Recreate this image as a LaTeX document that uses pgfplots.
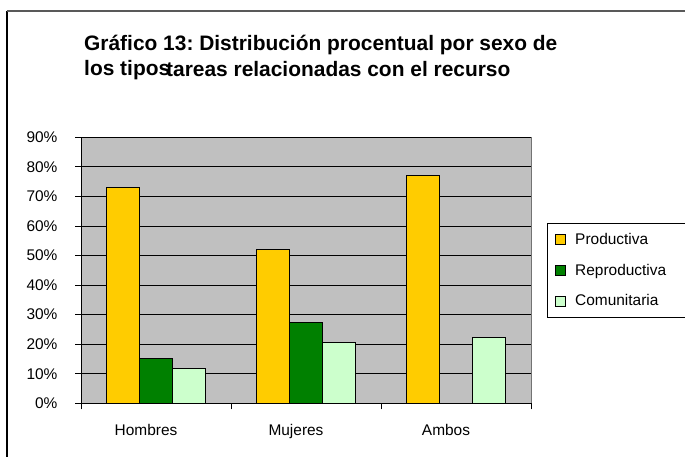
\documentclass[border=0pt]{standalone}
\usepackage{fontspec}
\setmainfont{Liberation Sans}
\usepackage{pgfplots}
\pgfplotsset{compat=1.18}
\definecolor{prod}{HTML}{FFCC00}
\definecolor{repro}{HTML}{008000}
\definecolor{comu}{HTML}{CCFFCC}
\definecolor{bg}{HTML}{C0C0C0}
\frenchspacing
\begin{document}
\begin{tikzpicture}[x=1bp,y=1bp]
\useasboundingbox (0,0) rectangle (685,457);
\draw[black,line width=1.2bp] (7,0) -- (7,446);
\draw[gray!70!black, line width=1.2bp] (7,446) -- (685,446);
\node[anchor=base west, font=\fontsize{21}{24}\selectfont\bfseries, inner sep=0] at (84,406) {Gráfico 13: Distribución procentual por sexo de};
\node[anchor=base west, font=\fontsize{21}{24}\selectfont\bfseries, inner sep=0] at (84,381.5) {los tipos};
\node[anchor=base west, font=\fontsize{21}{24}\selectfont\bfseries, inner sep=0] at (166,380.5) {tareas relacionadas con el recurso};
\begin{axis}[at={(81bp,53.7bp)}, anchor=south west, scale only axis, width=450bp, height=266bp,
  ybar=0pt, bar width=33bp,
  xmin=0.5, xmax=3.5, ymin=0, ymax=90,
  ytick={0,10,...,90},
  yticklabel={\pgfmathprintnumber{\tick}\%},
  /pgf/number format/assume math mode=true,
  xtick={0.5,1.5,2.5,3.5}, xticklabels={},
  extra x ticks={1,2,3}, extra x tick labels={Hombres,Mujeres,Ambos},
  extra x tick style={major tick length=0pt, grid=none, xticklabel style={xshift=-10bp, yshift=-17bp}},
  yticklabel style={xshift=-14bp},
  ymajorgrids, grid style={black, line width=0.8bp},
  tick align=outside, major tick length=6bp, tick style={black, line width=0.8bp},
  axis background/.style={fill=bg, draw=gray!90!black, line width=1bp},
  axis x line*=bottom, axis y line*=left,
  axis line style={black, -, line width=1bp},
  ticklabel style={font=\fontsize{15.5}{17}\selectfont},
  legend cell align=left,
  legend image code/.code={\draw[#1, line width=0.8bp] (0bp,-5bp) rectangle (10bp,5bp);},
  legend style={at={(axis description cs:1.0356,0.678)}, anchor=north west, draw=black, line width=0.8bp, fill=white,
    font=\fontsize{15.5}{17}\selectfont, row sep=14bp, column sep=7bp, inner xsep=8bp, inner ysep=8bp},
  every axis plot/.append style={draw=black, line width=1bp},
]
\addplot[fill=prod] coordinates {(1,73) (2,52) (3,77.1)};
\addplot[fill=repro] coordinates {(1,15.3) (2,27.5)};
\addplot[fill=comu] coordinates {(1,11.7) (2,20.6) (3,22.2)};
\legend{\makebox[110bp][l]{Productiva},\makebox[110bp][l]{Reproductiva},\makebox[110bp][l]{Comunitaria}}
\end{axis}
\end{tikzpicture}
\end{document}
